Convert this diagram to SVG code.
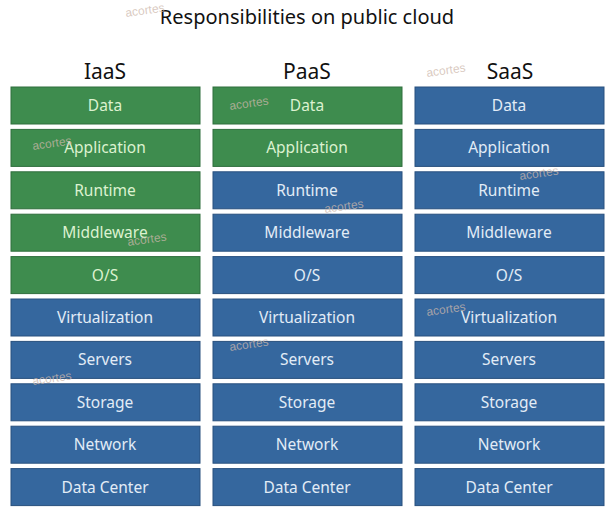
<svg xmlns="http://www.w3.org/2000/svg" width="611" height="511" viewBox="0 0 611 511">
<style>
.t{font-family:"Noto Sans","Open Sans",sans-serif;fill:#111;text-anchor:middle}
.g{fill:#3e8c4e;stroke:#2f6e3d;stroke-width:1}
.b{fill:#35679e;stroke:#28507e;stroke-width:1}
.lg{font-family:"Noto Sans","Open Sans",sans-serif;font-size:15.5px;text-anchor:middle;fill:#dcf2d0}
.lb{font-family:"Noto Sans","Open Sans",sans-serif;font-size:15.5px;text-anchor:middle;fill:#e2ecf6}
.w{font-family:"Liberation Sans",Arial,sans-serif;font-size:12px;fill:#cdb8ac;fill-opacity:0.75}
</style>
<rect width="611" height="511" fill="#ffffff"/>
<text class="t" x="307" y="24" font-size="20">Responsibilities on public cloud</text>
<text class="t" x="105" y="79" font-size="21">IaaS</text>
<text class="t" x="307" y="79" font-size="21">PaaS</text>
<text class="t" x="510" y="79" font-size="21">SaaS</text>
<g id="iaas">
<g id="iaas-data"><rect class="g" x="11" y="87" width="189" height="37"/><text class="lg" x="105" y="111">Data</text></g>
<g id="iaas-app"><rect class="g" x="11" y="129.4" width="189" height="37"/><text class="lg" x="105" y="153.4">Application</text></g>
<g id="iaas-runtime"><rect class="g" x="11" y="171.8" width="189" height="37"/><text class="lg" x="105" y="195.8">Runtime</text></g>
<g id="iaas-mw"><rect class="g" x="11" y="214.2" width="189" height="37"/><text class="lg" x="105" y="238.2">Middleware</text></g>
<g id="iaas-os"><rect class="g" x="11" y="256.6" width="189" height="37"/><text class="lg" x="105" y="280.6">O/S</text></g>
<g id="iaas-virt"><rect class="b" x="11" y="299" width="189" height="37"/><text class="lb" x="105" y="323">Virtualization</text></g>
<g id="iaas-servers"><rect class="b" x="11" y="341.4" width="189" height="37"/><text class="lb" x="105" y="365.4">Servers</text></g>
<g id="iaas-storage"><rect class="b" x="11" y="383.8" width="189" height="37"/><text class="lb" x="105" y="407.8">Storage</text></g>
<g id="iaas-net"><rect class="b" x="11" y="426.2" width="189" height="37"/><text class="lb" x="105" y="450.2">Network</text></g>
<g id="iaas-dc"><rect class="b" x="11" y="468.6" width="189" height="37"/><text class="lb" x="105" y="492.6">Data Center</text></g>
</g>
<g id="paas">
<g id="paas-data"><rect class="g" x="213" y="87" width="189" height="37"/><text class="lg" x="307" y="111">Data</text></g>
<g id="paas-app"><rect class="g" x="213" y="129.4" width="189" height="37"/><text class="lg" x="307" y="153.4">Application</text></g>
<g id="paas-runtime"><rect class="b" x="213" y="171.8" width="189" height="37"/><text class="lb" x="307" y="195.8">Runtime</text></g>
<g id="paas-mw"><rect class="b" x="213" y="214.2" width="189" height="37"/><text class="lb" x="307" y="238.2">Middleware</text></g>
<g id="paas-os"><rect class="b" x="213" y="256.6" width="189" height="37"/><text class="lb" x="307" y="280.6">O/S</text></g>
<g id="paas-virt"><rect class="b" x="213" y="299" width="189" height="37"/><text class="lb" x="307" y="323">Virtualization</text></g>
<g id="paas-servers"><rect class="b" x="213" y="341.4" width="189" height="37"/><text class="lb" x="307" y="365.4">Servers</text></g>
<g id="paas-storage"><rect class="b" x="213" y="383.8" width="189" height="37"/><text class="lb" x="307" y="407.8">Storage</text></g>
<g id="paas-net"><rect class="b" x="213" y="426.2" width="189" height="37"/><text class="lb" x="307" y="450.2">Network</text></g>
<g id="paas-dc"><rect class="b" x="213" y="468.6" width="189" height="37"/><text class="lb" x="307" y="492.6">Data Center</text></g>
</g>
<g id="saas">
<g id="saas-data"><rect class="b" x="415" y="87" width="189" height="37"/><text class="lb" x="509" y="111">Data</text></g>
<g id="saas-app"><rect class="b" x="415" y="129.4" width="189" height="37"/><text class="lb" x="509" y="153.4">Application</text></g>
<g id="saas-runtime"><rect class="b" x="415" y="171.8" width="189" height="37"/><text class="lb" x="509" y="195.8">Runtime</text></g>
<g id="saas-mw"><rect class="b" x="415" y="214.2" width="189" height="37"/><text class="lb" x="509" y="238.2">Middleware</text></g>
<g id="saas-os"><rect class="b" x="415" y="256.6" width="189" height="37"/><text class="lb" x="509" y="280.6">O/S</text></g>
<g id="saas-virt"><rect class="b" x="415" y="299" width="189" height="37"/><text class="lb" x="509" y="323">Virtualization</text></g>
<g id="saas-servers"><rect class="b" x="415" y="341.4" width="189" height="37"/><text class="lb" x="509" y="365.4">Servers</text></g>
<g id="saas-storage"><rect class="b" x="415" y="383.8" width="189" height="37"/><text class="lb" x="509" y="407.8">Storage</text></g>
<g id="saas-net"><rect class="b" x="415" y="426.2" width="189" height="37"/><text class="lb" x="509" y="450.2">Network</text></g>
<g id="saas-dc"><rect class="b" x="415" y="468.6" width="189" height="37"/><text class="lb" x="509" y="492.6">Data Center</text></g>
</g>
<g id="watermarks">
<text class="w" transform="translate(126,17) rotate(-8)">acortes</text>
<text class="w" transform="translate(427,77) rotate(-8)">acortes</text>
<text class="w" transform="translate(230,110) rotate(-8)">acortes</text>
<text class="w" transform="translate(33,150) rotate(-8)">acortes</text>
<text class="w" transform="translate(520,180) rotate(-8)">acortes</text>
<text class="w" transform="translate(325,213) rotate(-8)">acortes</text>
<text class="w" transform="translate(128,246) rotate(-8)">acortes</text>
<text class="w" transform="translate(427,316) rotate(-8)">acortes</text>
<text class="w" transform="translate(230,351) rotate(-8)">acortes</text>
<text class="w" transform="translate(33,385) rotate(-8)">acortes</text>
</g>
</svg>
